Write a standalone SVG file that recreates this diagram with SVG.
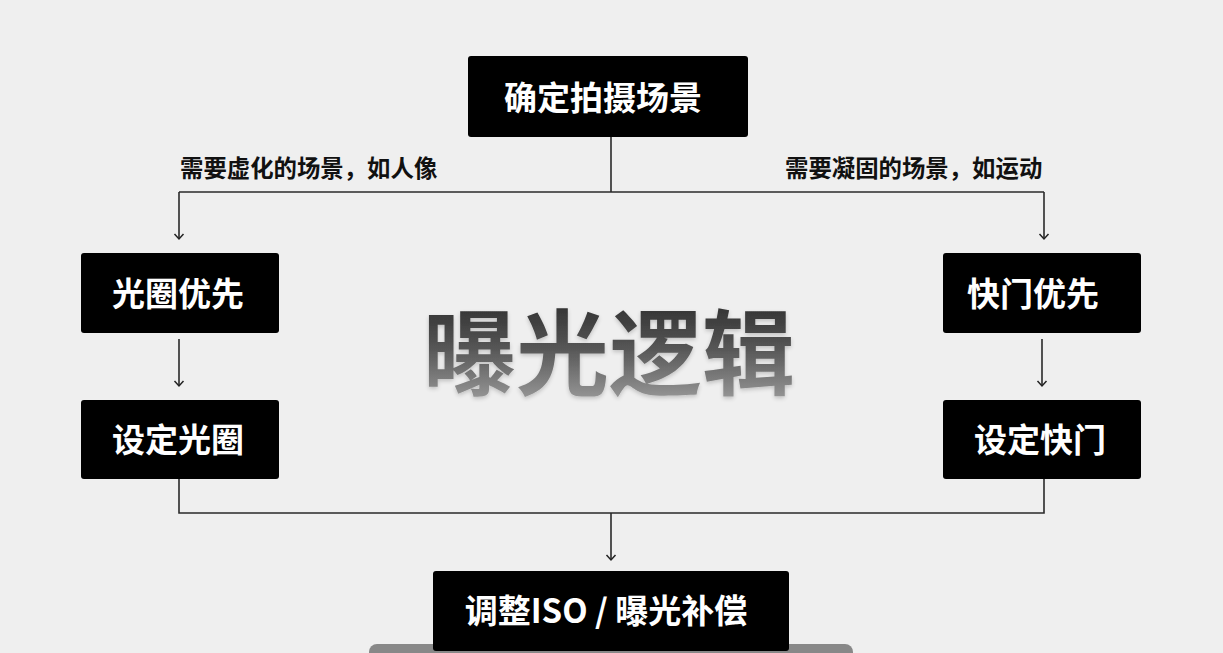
<svg xmlns="http://www.w3.org/2000/svg" width="1223" height="653" viewBox="0 0 1223 653">
  <defs>
    <marker id="arr" viewBox="0 0 12 12" refX="10" refY="6" markerWidth="12" markerHeight="12" markerUnits="userSpaceOnUse" orient="auto">
      <path d="M5,1.5 L10,6 L5,10.5" fill="none" stroke="#222" stroke-width="1.5"/>
    </marker>
    <linearGradient id="titleGrad" x1="0" y1="0" x2="0" y2="1">
      <stop offset="0" stop-color="#1e1e1e"/>
      <stop offset="0.5" stop-color="#555"/>
      <stop offset="1" stop-color="#aaa"/>
    </linearGradient>
    <filter id="tshadow" x="-10%" y="-10%" width="120%" height="130%">
      <feGaussianBlur in="SourceAlpha" stdDeviation="2"/>
      <feOffset dx="0" dy="2" result="b"/>
      <feComponentTransfer><feFuncA type="linear" slope="0.2"/></feComponentTransfer>
      <feMerge><feMergeNode/><feMergeNode in="SourceGraphic"/></feMerge>
    </filter>
  </defs>
  <style>
    .box { fill: #000; }
    .nt { font-family: "Noto Sans CJK SC", "Noto Sans", sans-serif; font-weight: 700; fill: #fff; text-anchor: middle; }
    .lbl { font-family: "Noto Sans CJK SC", sans-serif; font-weight: 700; font-size: 23.4px; fill: #111; }
    .ln { fill: none; stroke: #2a2a2a; stroke-width: 1.6; }
  </style>
  <rect width="1223" height="653" fill="#efefef"/>

  <g id="title">
    <text x="609" y="388" font-family="Noto Sans CJK SC, sans-serif" font-weight="700" font-size="93" text-anchor="middle" fill="url(#titleGrad)" filter="url(#tshadow)">曝光逻辑</text>
  </g>

  <rect id="bottom-bar" x="369" y="644" width="484" height="20" rx="8" fill="#888"/>

  <g id="connectors">
    <path class="ln" d="M611,137 V192"/>
    <path class="ln" d="M179,192 H1044"/>
    <path class="ln" d="M179,192 V239" marker-end="url(#arr)"/>
    <path class="ln" d="M1044,192 V239" marker-end="url(#arr)"/>
    <path class="ln" d="M179,339 V386" marker-end="url(#arr)"/>
    <path class="ln" d="M1042,339 V386" marker-end="url(#arr)"/>
    <path class="ln" d="M179,479 V513 H1044 V479"/>
    <path class="ln" d="M611,513 V560" marker-end="url(#arr)"/>
  </g>

  <g id="labels">
    <text class="lbl" x="180" y="177">需要虚化的场景，如人像</text>
    <text class="lbl" x="785" y="177">需要凝固的场景，如运动</text>
  </g>

  <g id="node-scene">
    <rect class="box" x="468" y="56" width="280" height="81" rx="3"/>
    <text class="nt" x="603" y="110" font-size="33">确定拍摄场景</text>
  </g>
  <g id="node-aperture-priority">
    <rect class="box" x="81" y="253" width="198" height="80" rx="3"/>
    <text class="nt" x="178" y="306" font-size="33">光圈优先</text>
  </g>
  <g id="node-set-aperture">
    <rect class="box" x="81" y="400" width="198" height="79" rx="3"/>
    <text class="nt" x="178" y="452" font-size="33">设定光圈</text>
  </g>
  <g id="node-shutter-priority">
    <rect class="box" x="943" y="253" width="198" height="80" rx="3"/>
    <text class="nt" x="1033" y="306" font-size="33">快门优先</text>
  </g>
  <g id="node-set-shutter">
    <rect class="box" x="943" y="400" width="198" height="79" rx="3"/>
    <text class="nt" x="1040" y="452" font-size="33">设定快门</text>
  </g>
  <g id="node-iso">
    <rect class="box" x="433" y="571" width="356" height="80" rx="3"/>
    <text class="nt" x="606" y="623" font-size="33">调整ISO / 曝光补偿</text>
  </g>
</svg>
